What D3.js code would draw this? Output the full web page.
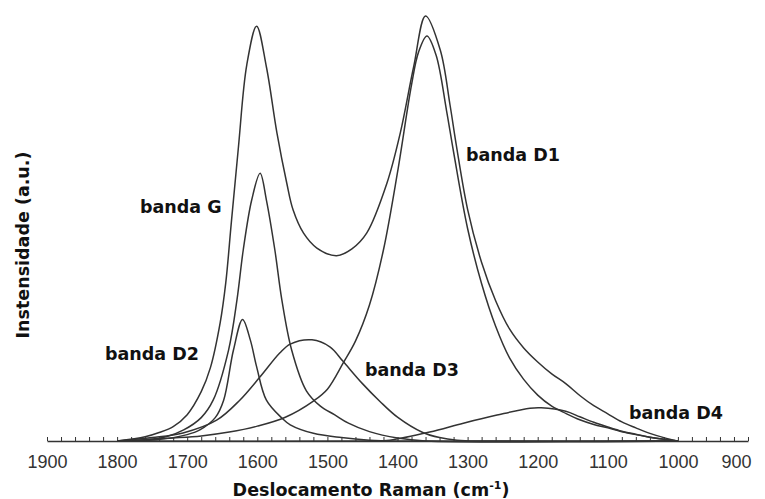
<!DOCTYPE html>
<html>
<head>
<meta charset="utf-8">
<script src="https://cdn.jsdelivr.net/npm/d3@7"></script>
<style>
  body { margin: 0; background: #fff; }
  svg { display: block; }
</style>
</head>
<body>
<script>
// wavenumber (cm-1), intensity (a.u.)
var sumCurve = [[1800,0],[1760,1.0],[1740,2.0],[1720,3.4],[1700,6.2],[1680,11.6],[1667,17.2],[1653,27.8],[1645,37.2],[1637,51.5],[1627,69],[1615,88.5],[1601,97.6],[1587,88],[1572,72.5],[1558,60.7],[1549,54.4],[1534,48.9],[1515,45.4],[1487,43.6],[1465,45.2],[1444,48.9],[1415,60.7],[1396,72.5],[1377,88],[1360,100],[1339,92],[1325,79],[1316,69.5],[1300,54.5],[1280,42],[1260,33],[1240,26.3],[1220,21.9],[1200,18.6],[1180,15.8],[1160,13.5],[1140,10.7],[1120,8.3],[1100,6.4],[1080,4.5],[1060,3.1],[1040,1.8],[1020,0.8],[1000,0]];

var bandG = [[1800,0],[1760,0.3],[1730,1.0],[1705,2.6],[1680,5.5],[1663,9.6],[1641,21.4],[1629,33.2],[1620,45],[1608,56.7],[1596,63],[1587,56.7],[1575,45],[1565,33.2],[1551,21.4],[1530,11.8],[1510,8.2],[1490,6.2],[1470,4.2],[1440,2.2],[1400,0.7],[1360,0],[1000,0]];

var bandD1 = [[1800,0],[1760,0.3],[1720,0.7],[1680,1.2],[1640,2.1],[1600,3.5],[1560,5.6],[1520,9.4],[1500,12.2],[1477,18.5],[1460,23.5],[1440,32],[1420,45],[1400,63.2],[1380,83.8],[1370,91.5],[1358,95.3],[1345,90.8],[1330,77.7],[1320,68],[1300,50],[1280,37],[1260,27],[1240,19.5],[1220,14.5],[1200,10.8],[1180,8.2],[1160,6.5],[1140,5.0],[1120,3.9],[1100,3.1],[1080,2.2],[1060,1.5],[1040,0.9],[1020,0.4],[1000,0]];

var bandD2 = [[1800,0],[1744,0.3],[1700,1.5],[1682,2.6],[1660,5.5],[1648,9.6],[1634,21.4],[1621,28.6],[1610,23.8],[1601,17.5],[1587,9.6],[1565,5.4],[1553,3.8],[1520,1.8],[1480,0.8],[1440,0.2],[1400,0],[1000,0]];

var bandD3 = [[1800,0],[1750,0.8],[1706,1.9],[1658,4.9],[1625,9.6],[1596,15.1],[1568,20.7],[1553,22.8],[1522,23.8],[1496,22.1],[1478,18.8],[1450,13.5],[1425,9.3],[1400,5.6],[1364,2.0],[1340,0.8],[1315,0.2],[1280,0],[1000,0]];

var bandD4 = [[1800,0],[1440,0],[1411,0.2],[1354,2.1],[1306,4.2],[1258,6.1],[1211,7.7],[1195,7.8],[1160,7.0],[1140,5.7],[1120,4.4],[1100,3.3],[1080,2.3],[1060,1.6],[1040,0.9],[1020,0.4],[1000,0]];

var series = [sumCurve, bandG, bandD1, bandD2, bandD3, bandD4];

var bandLabels = ["banda G", "banda D1", "banda D2", "banda D3", "banda D4"];

var tickValues = d3.range(900, 1901, 20);

var width = 765, height = 499;

var svg = d3.select("body").append("svg")
    .attr("width", width)
    .attr("height", height);

var x = d3.scaleLinear().domain([1900, 900]).range([47, 748]);
var y = d3.scaleLinear().domain([0, 100]).range([441, 16]);

var line = d3.line()
    .x(function(d) { return x(d[0]); })
    .y(function(d) { return y(d[1]); })
    .curve(d3.curveCatmullRom.alpha(0.5));

svg.selectAll("path.curve")
    .data(series)
  .enter().append("path")
    .attr("class", "curve")
    .attr("d", line)
    .attr("fill", "none")
    .attr("stroke", "#333")
    .attr("stroke-width", 1.5);

var xAxis = d3.axisBottom(x)
    .tickValues(tickValues)
    .tickSizeInner(-4)
    .tickSizeOuter(0)
    .tickPadding(14)
    .tickFormat(function(d) { return d % 100 === 0 ? d : ""; });

var gx = svg.append("g")
    .attr("transform", "translate(0," + y(0) + ")")
    .call(xAxis);

gx.select(".domain").attr("stroke", "#333").attr("stroke-width", 1.5);
gx.selectAll(".tick line").attr("stroke", "#333");
gx.selectAll(".tick text")
    .attr("font-family", "'Liberation Sans', Arial, sans-serif")
    .attr("font-size", 18)
    .attr("fill", "#333");
gx.selectAll(".tick").filter(function(d) { return d === 900; }).select("text")
    .attr("text-anchor", "end")
    .attr("x", 3);

// band labels
var labelPos = [[140, 213], [466, 161], [105, 360], [365, 376], [629, 419]];
svg.selectAll("text.band")
    .data(bandLabels)
  .enter().append("text")
    .attr("class", "band")
    .attr("x", function(d, i) { return labelPos[i][0]; })
    .attr("y", function(d, i) { return labelPos[i][1]; })
    .attr("font-family", "'DejaVu Sans', sans-serif")
    .attr("font-weight", "bold")
    .attr("font-size", 17.5)
    .attr("fill", "#111")
    .text(function(d) { return d; });

// axis titles
var xt = svg.append("text")
    .attr("x", 371)
    .attr("y", 496)
    .attr("text-anchor", "middle")
    .attr("font-family", "'DejaVu Sans', sans-serif")
    .attr("font-weight", "bold")
    .attr("font-size", 17.5)
    .attr("fill", "#111");
xt.append("tspan").text("Deslocamento Raman (cm");
xt.append("tspan").attr("font-size", 11).attr("dy", -7).text("-1");
xt.append("tspan").attr("dy", 7).text(")");

svg.append("text")
    .attr("transform", "translate(29,245) rotate(-90)")
    .attr("text-anchor", "middle")
    .attr("font-family", "'DejaVu Sans', sans-serif")
    .attr("font-weight", "bold")
    .attr("font-size", 17.5)
    .attr("fill", "#111")
    .text("Instensidade (a.u.)");
</script>
</body>
</html>
